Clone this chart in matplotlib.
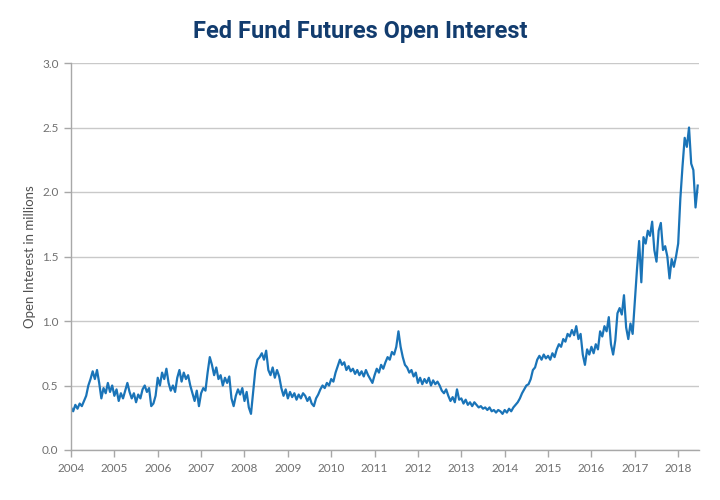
import numpy as np
import matplotlib
matplotlib.use("Agg")
import matplotlib.pyplot as plt
from matplotlib import font_manager

# ---- data (decimal years, values in millions), sampled every 0.05 yr ----
start_year = 2004.0
step = 0.05

v2004 = [0.33, 0.30, 0.35, 0.32, 0.36, 0.34, 0.38, 0.42, 0.50, 0.55,
         0.61, 0.55, 0.62, 0.52, 0.40, 0.48, 0.44, 0.52, 0.45, 0.50]
v2005 = [0.42, 0.47, 0.38, 0.44, 0.40, 0.46, 0.52, 0.45, 0.40, 0.44,
         0.37, 0.43, 0.40, 0.47, 0.50, 0.45, 0.48, 0.34, 0.36, 0.42]
v2006 = [0.56, 0.50, 0.60, 0.55, 0.63, 0.52, 0.46, 0.50, 0.45, 0.56,
         0.62, 0.53, 0.60, 0.55, 0.58, 0.50, 0.44, 0.38, 0.46, 0.34]
v2007 = [0.44, 0.48, 0.46, 0.60, 0.72, 0.66, 0.58, 0.64, 0.55, 0.58,
         0.50, 0.56, 0.52, 0.57, 0.40, 0.34, 0.42, 0.47, 0.43, 0.48]
v2008 = [0.38, 0.45, 0.33, 0.28, 0.45, 0.62, 0.70, 0.72, 0.75, 0.70,
         0.77, 0.62, 0.58, 0.64, 0.56, 0.62, 0.57, 0.48, 0.42, 0.47]
v2009 = [0.40, 0.45, 0.41, 0.44, 0.39, 0.43, 0.40, 0.44, 0.42, 0.38,
         0.41, 0.36, 0.34, 0.40, 0.43, 0.47, 0.50, 0.48, 0.52, 0.50]
v2010 = [0.55, 0.53, 0.60, 0.65, 0.70, 0.66, 0.68, 0.62, 0.65, 0.61,
         0.63, 0.59, 0.62, 0.58, 0.61, 0.57, 0.62, 0.58, 0.55, 0.52]
v2011 = [0.58, 0.63, 0.60, 0.66, 0.63, 0.68, 0.72, 0.70, 0.76, 0.74,
         0.80, 0.92, 0.80, 0.72, 0.66, 0.64, 0.60, 0.62, 0.57, 0.60]
v2012 = [0.52, 0.56, 0.51, 0.55, 0.52, 0.56, 0.50, 0.54, 0.51, 0.53,
         0.50, 0.46, 0.44, 0.47, 0.42, 0.38, 0.41, 0.37, 0.47, 0.39]
v2013 = [0.40, 0.36, 0.39, 0.35, 0.37, 0.34, 0.37, 0.35, 0.33, 0.34,
         0.32, 0.33, 0.31, 0.33, 0.30, 0.31, 0.29, 0.31, 0.30, 0.28]
v2014 = [0.31, 0.29, 0.32, 0.30, 0.33, 0.35, 0.37, 0.40, 0.44, 0.47,
         0.50, 0.51, 0.55, 0.62, 0.64, 0.70, 0.73, 0.70, 0.74, 0.71]
v2015 = [0.73, 0.70, 0.75, 0.72, 0.78, 0.82, 0.80, 0.86, 0.84, 0.90,
         0.88, 0.93, 0.89, 0.96, 0.86, 0.90, 0.74, 0.66, 0.78, 0.74]
v2016 = [0.80, 0.75, 0.82, 0.78, 0.92, 0.88, 0.96, 0.92, 1.03, 0.82,
         0.74, 0.85, 1.06, 1.10, 1.05, 1.20, 0.95, 0.86, 0.98, 0.90]
v2017 = [1.15, 1.40, 1.62, 1.30, 1.65, 1.60, 1.70, 1.66, 1.77, 1.55,
         1.46, 1.70, 1.76, 1.55, 1.58, 1.50, 1.33, 1.48, 1.42, 1.50]
v2018 = [1.60, 1.95, 2.20, 2.42, 2.35, 2.50, 2.22, 2.17, 1.88, 2.05]

values = np.array(v2004 + v2005 + v2006 + v2007 + v2008 + v2009 + v2010 +
                  v2011 + v2012 + v2013 + v2014 + v2015 + v2016 + v2017 + v2018)
dates = start_year + step * np.arange(len(values))

x_ticks = list(range(2004, 2019))
y_ticks = [0.0, 0.5, 1.0, 1.5, 2.0, 2.5, 3.0]

title = "Fed Fund Futures Open Interest"
ylabel = "Open Interest in millions"

# ---- fonts ----
avail = {f.name for f in font_manager.fontManager.ttflist}
title_family = [f for f in ["Liberation Sans Narrow", "Roboto", "DejaVu Sans"] if f in avail]
body_family = [f for f in ["Lato", "Open Sans", "DejaVu Sans"] if f in avail]

fig = plt.figure(figsize=(7.2, 5.0), dpi=100)
ax = fig.add_axes([71 / 720, 50 / 500, (699 - 71) / 720, (450 - 63) / 500])

ax.plot(dates, values, color="#1a74b8", lw=1.6, solid_joinstyle="round")

ax.set_xlim(2004, 2018.48)
ax.set_ylim(0, 3.0)
ax.set_xticks(x_ticks)
ax.set_xticklabels([str(t) for t in x_ticks])
ax.set_yticks(y_ticks)
ax.set_yticklabels([f"{t:.1f}" for t in y_ticks])

grid_c = "#c9c9c9"
ax.grid(axis="y", color=grid_c, lw=1.0)
ax.set_axisbelow(True)
for s in ["top", "right"]:
    ax.spines[s].set_visible(False)
for s in ["left", "bottom"]:
    ax.spines[s].set_color("#a8a8a8")
    ax.spines[s].set_linewidth(1.0)
ax.tick_params(axis="both", colors="#a8a8a8", labelcolor="#707070",
               labelsize=8.5, length=5, width=1.0, direction="out")
ax.tick_params(axis="x", pad=4)
ax.tick_params(axis="y", pad=4)
for lab in ax.get_xticklabels() + ax.get_yticklabels():
    lab.set_family(body_family)

ax.set_ylabel(ylabel, fontsize=9.5, color="#505050", family=body_family, labelpad=4)

fig.text(0.5, 0.937, title, ha="center", va="center", fontsize=17,
         fontweight="bold", color="#123c6e", family=title_family)

fig.savefig("out.png", dpi=100)
